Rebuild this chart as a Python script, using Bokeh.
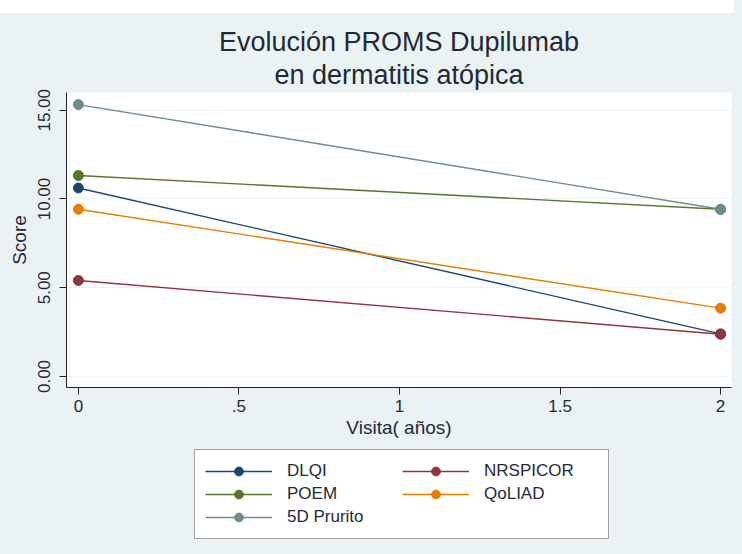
from bokeh.plotting import figure
from bokeh.layouts import column
from bokeh.models import (Range1d, FixedTicker, NumeralTickFormatter, Title,
                          Legend, LegendItem, Div)
from bokeh.embed import file_html
from bokeh.resources import INLINE

# ---- data ----
visita = [0, 2]
series_names = ["DLQI", "NRSPICOR", "POEM", "QoLIAD", "5D Prurito"]
dlqi = [10.62, 2.40]
nrspicor = [5.41, 2.38]
poem = [11.32, 9.42]
qoliad = [9.42, 3.85]
prurito = [15.32, 9.42]
x_ticks = [0, 0.5, 1, 1.5, 2]
x_tick_labels = ["0", ".5", "1", "1.5", "2"]
y_ticks = [0, 5, 10, 15]

colors = {"DLQI": "#1a476f", "NRSPICOR": "#90353b", "POEM": "#55752f",
          "QoLIAD": "#e37e00", "5D Prurito": "#6e8e84"}
values = {"DLQI": dlqi, "NRSPICOR": nrspicor, "POEM": poem,
          "QoLIAD": qoliad, "5D Prurito": prurito}

FONT = "Liberation Sans"
TXT = "#1f2a36"
BG = "#eaf2f3"

p = figure(width=734, height=429, output_backend="svg", toolbar_location=None,
           x_range=Range1d(-0.037, 2.034), y_range=Range1d(-0.62, 16.0),
           min_border_left=66, min_border_right=3, min_border_top=79,
           min_border_bottom=55, background_fill_color="white",
           border_fill_color=BG, outline_line_color=None)

# titles (added nearest-first)
p.title = None
t2 = Title(text="en dermatitis atópica", align="center", text_font=FONT,
           text_font_size="27px", text_font_style="normal", text_color=TXT,
           standoff=5)
t1 = Title(text="Evolución PROMS Dupilumab", align="center", text_font=FONT,
           text_font_size="27px", text_font_style="normal", text_color=TXT,
           standoff=-3)
p.add_layout(t2, "above")
p.add_layout(t1, "above")

# axes
p.xaxis.ticker = FixedTicker(ticks=x_ticks)
p.xaxis.major_label_overrides = {t: l for t, l in zip(x_ticks, x_tick_labels)}
p.yaxis.ticker = FixedTicker(ticks=y_ticks)
p.yaxis.formatter = NumeralTickFormatter(format="0.00")
p.yaxis.major_label_orientation = "vertical"
p.xaxis.axis_label = "Visita( años)"
p.yaxis.axis_label = "Score"
for ax in (p.xaxis, p.yaxis):
    ax.axis_line_color = "#222222"
    ax.major_tick_line_color = "#222222"
    ax.major_tick_out = 7
    ax.major_tick_in = 0
    ax.minor_tick_line_color = None
    ax.major_label_text_font = FONT
    ax.major_label_text_font_size = "17px"
    ax.major_label_text_color = TXT
    ax.axis_label_text_font = FONT
    ax.axis_label_text_font_size = "19px"
    ax.axis_label_text_font_style = "normal"
    ax.axis_label_text_color = TXT
p.xaxis.major_label_standoff = 5
p.xaxis.axis_label_standoff = 2
p.yaxis.major_label_standoff = 9
p.yaxis.axis_label_standoff = 6

p.xgrid.grid_line_color = None
p.ygrid.grid_line_color = BG
p.ygrid.grid_line_width = 1

for name in series_names:
    c = colors[name]
    p.line(visita, values[name], line_color=c, line_width=1.4)
    p.scatter(visita, values[name], size=10, fill_color=c, line_color=c)

# legend panel (separate strip below the chart; its glyphs lie off-range)
lg = figure(width=734, height=104, output_backend="svg", toolbar_location=None,
            x_range=Range1d(10, 11), y_range=Range1d(10, 11),
            min_border=0, background_fill_color=BG, border_fill_color=BG,
            outline_line_color=None)
lg.axis.visible = False
lg.grid.visible = False
items = []
for name in series_names:
    c = colors[name]
    r1 = lg.line(visita, values[name], line_color=c, line_width=1.4)
    r2 = lg.scatter(visita, values[name], size=10, fill_color=c, line_color=c)
    items.append(LegendItem(label=name, renderers=[r1, r2]))

legend = Legend(items=items, ncols=2, location=(128, 7),
                orientation="horizontal",
                label_text_font=FONT, label_text_font_size="17px",
                label_text_color=TXT, glyph_width=67, glyph_height=22,
                label_height=22, label_width=114, label_standoff=15,
                spacing=1, padding=10, border_line_color="#444444",
                border_line_width=1, background_fill_color="white",
                background_fill_alpha=1.0, margin=0)
lg.add_layout(legend, "center")

top_band = Div(text="", width=734, height=13, margin=0,
               styles={"background-color": "white", "height": "13px",
                       "overflow": "hidden"})

layout = column(top_band, p, lg, spacing=0)
html = file_html(layout, INLINE)
style = "<style>html, body { background: %s !important; }</style>" % BG
html = html.replace("</head>", style + "</head>", 1)
open("out.html", "w").write(html)
